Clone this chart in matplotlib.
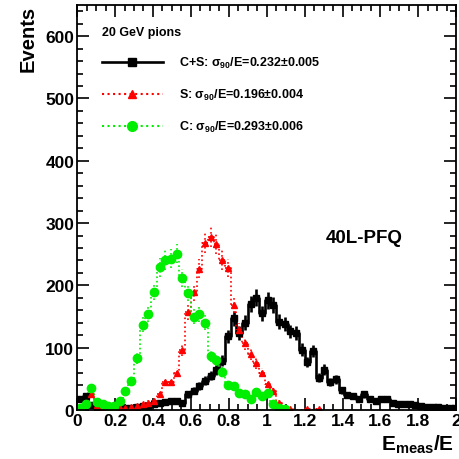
#!/usr/bin/env python3

import numpy as np
import matplotlib
matplotlib.use("Agg")
from matplotlib import pyplot as plt
from matplotlib.lines import Line2D
from matplotlib.ticker import MultipleLocator

plt.rcParams['font.family'] = ['Liberation Sans', 'DejaVu Sans']
plt.rcParams['font.weight'] = 'bold'
plt.rcParams['mathtext.fontset'] = 'custom'
plt.rcParams['mathtext.rm'] = 'Liberation Sans:bold'
plt.rcParams['mathtext.it'] = 'Liberation Sans:bold'
plt.rcParams['mathtext.bf'] = 'Liberation Sans:bold'

# bins of width 0.03 starting at E_meas/E = 0
bin_width = 0.03

cs_counts = [18, 22, 8, 4, 4, 3, 3, 4, 3, 4, 5, 6, 7, 9, 11, 13, 15, 14, 12,
             25, 31, 39, 47, 55, 65, 79, 118, 147, 124, 140, 170, 180, 155,
             176, 168, 142, 138, 126, 124, 97, 77, 95, 52, 65, 45, 49, 32,
             24, 23, 17, 25, 17, 15, 17, 17, 12, 10, 10, 10, 8, 7, 5, 5, 5,
             4, 4, 3]

s_counts = [5, 12, 25, 8, 4, 3, 3, 4, 3, 5, 6, 9, 12, 15, 25, 45, 45, 60,
            96, 157, 189, 227, 268, 278, 266, 241, 228, 168, 129, 107, 90,
            75, 60, 41, 31, 12, 3, 1, 0, 0, 1, 0, 1]

c_counts = [3, 10, 36, 13, 10, 7, 6, 14, 31, 47, 83, 137, 154, 190, 229,
            241, 243, 251, 212, 188, 150, 154, 140, 86, 80, 61, 40, 38, 28,
            25, 17, 29, 23, 27, 10, 4, 1]

labels = ["C+S: $\\sigma_{90}$/E=0.232$\\pm$0.005",
          "S: $\\sigma_{90}$/E=0.196$\\pm$0.004",
          "C: $\\sigma_{90}$/E=0.293$\\pm$0.006"]


def draw_series(ax, counts, color, marker, ms, ls, lw):
    y = np.array(counts, dtype=float)
    x = (np.arange(len(y)) + 0.5) * bin_width
    ax.step(x, y, where='mid', color=color, ls=ls, lw=lw)
    keep = y > 0
    eb = ax.errorbar(x[keep], y[keep], xerr=bin_width / 2, yerr=np.sqrt(y[keep]),
                     fmt=marker, color=color, ms=ms, elinewidth=lw,
                     capsize=0)
    eb[2][0].set_linestyle(ls)
    eb[2][1].set_linestyle(ls)


def main():
    fig = plt.figure(figsize=(4.59, 4.60), dpi=100)
    ax = fig.add_axes([0.168, 0.1065, 0.826, 0.8805])

    draw_series(ax, cs_counts, 'black', 's', 5, '-', 1.9)
    draw_series(ax, s_counts, 'red', '^', 5, ':', 1.2)
    draw_series(ax, c_counts, '#00ee00', 'o', 6, ':', 1.2)

    ax.set_xlim(0, 2)
    ax.set_ylim(0, 650)
    ax.xaxis.set_major_locator(MultipleLocator(0.2))
    ax.xaxis.set_minor_locator(MultipleLocator(0.05))
    ax.yaxis.set_major_locator(MultipleLocator(100))
    ax.yaxis.set_minor_locator(MultipleLocator(20))
    ax.set_xticks(np.arange(0, 2.01, 0.2))
    ax.set_xticklabels(['0', '0.2', '0.4', '0.6', '0.8', '1', '1.2', '1.4',
                        '1.6', '1.8', '2'])
    ax.tick_params(which='both', direction='in', top=True, right=True,
                   labelsize=12.5, width=1.2, pad=2)
    ax.tick_params(which='major', length=8.5)
    ax.tick_params(which='minor', length=4.5)
    for sp in ax.spines.values():
        sp.set_linewidth(1.3)

    ax.set_ylabel("Events", fontsize=14.5, fontweight='bold')
    ax.yaxis.set_label_coords(-0.105, 1.0)
    ax.yaxis.label.set_horizontalalignment('right')
    ax.set_xlabel("E$_{\\mathregular{meas}}$/E", fontsize=15, fontweight='bold')
    ax.xaxis.set_label_coords(0.995, -0.055)
    ax.xaxis.label.set_horizontalalignment('right')

    handles = [Line2D([], [], color='black', ls='-', lw=1.9, marker='s', ms=6),
               Line2D([], [], color='red', ls=':', lw=1.5, marker='^', ms=6),
               Line2D([], [], color='#00ee00', ls=':', lw=1.5, marker='o', ms=7)]
    leg = ax.legend(handles, labels, loc='upper left',
                    bbox_to_anchor=(0.035, 0.975), frameon=False,
                    title="20 GeV pions", fontsize=9, handlelength=4.9,
                    labelspacing=1.35, handletextpad=1.3,
                    title_fontproperties={'weight': 'bold', 'size': 9})
    leg._legend_box.align = "left"

    ax.text(0.655, 0.415, "40L-PFQ", transform=ax.transAxes, fontsize=13.5,
            fontweight='bold')

    fig.savefig("out.png", dpi=100)


if __name__ == "__main__":
    main()
